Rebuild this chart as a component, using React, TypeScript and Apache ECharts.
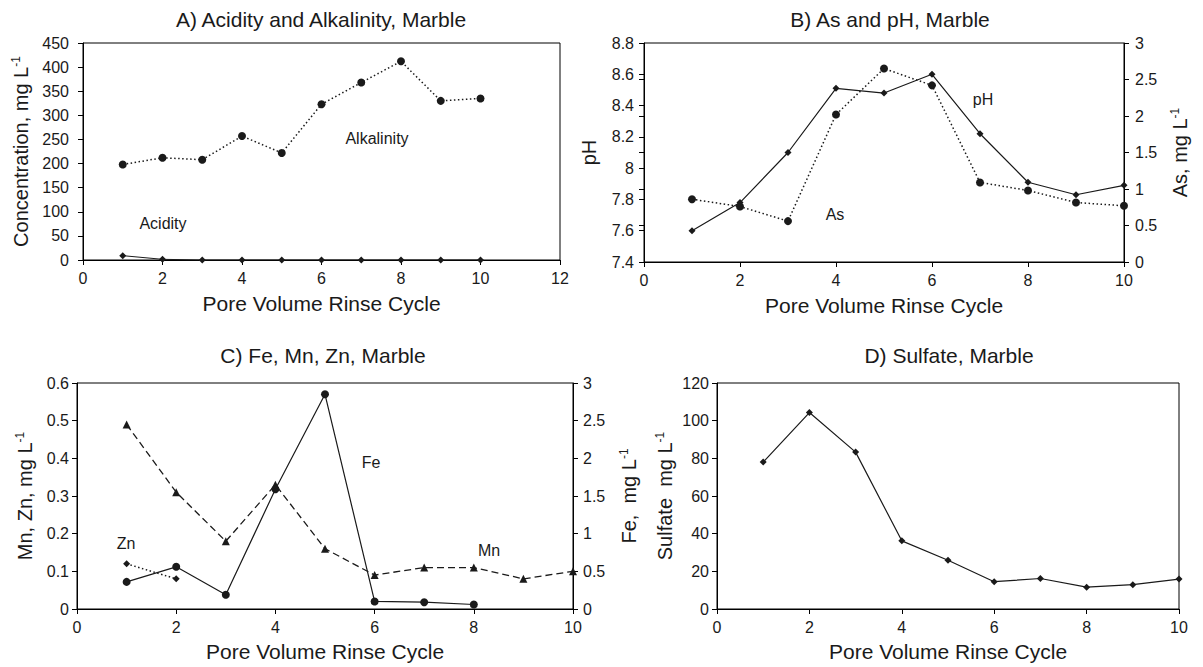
import React, { useEffect, useRef } from "react";
import * as echarts from "echarts";

// ---------- data ----------
const cycles = [1, 2, 3, 4, 5, 6, 7, 8, 9, 10];
const alkalinity = [198, 212, 208, 257, 222, 323, 368, 412, 330, 335];
const acidity = [9, 1.4, 0, 0, 0, 0, 0, 0, 0, 0];
const pH = [7.6, 7.78, 8.1, 8.51, 8.48, 8.6, 8.22, 7.91, 7.83, 7.89];
const arsenic = [0.86, 0.76, 0.56, 2.02, 2.65, 2.42, 1.09, 0.98, 0.815, 0.77];
const manganese = [0.49, 0.31, 0.18, 0.33, 0.16, 0.09, 0.11, 0.11, 0.08, 0.1];
const znCycles = [1, 2];
const zinc = [0.12, 0.08];
const feCycles = [1, 2, 3, 4, 5, 6, 7, 8];
const iron = [0.36, 0.56, 0.19, 1.59, 2.85, 0.1, 0.09, 0.06];
const sulfate = [78, 104.3, 83.3, 36.2, 25.9, 14.5, 16.2, 11.6, 12.9, 15.9];

const panelTitles = [
  "A) Acidity and Alkalinity, Marble",
  "B) As and pH, Marble",
  "C) Fe, Mn, Zn, Marble",
  "D) Sulfate, Marble",
];
const xAxisTitle = "Pore Volume Rinse Cycle";

const FONT = "Liberation Sans, Arial, sans-serif";
const INK = "#1a1a1a";

const pairs = (xs: number[], ys: number[]) => xs.map((x, i) => [x, ys[i]]);

const supRich = {
  sup: { fontSize: 12, verticalAlign: "top", fontFamily: FONT, color: INK, padding: [0, 0, 9, 0] },
};

function xAxis(gridIndex: number, max: number, nameGap = 33) {
  return {
    type: "value",
    gridIndex,
    min: 0,
    max,
    interval: 2,
    name: xAxisTitle,
    nameLocation: "middle",
    nameGap,
    nameTextStyle: { fontSize: 21, fontFamily: FONT, color: INK },
    axisLine: { show: true, onZero: false, lineStyle: { color: "#000", width: 1 } },
    axisTick: { show: true, length: 5, lineStyle: { color: "#000" } },
    axisLabel: { fontSize: 16, fontFamily: FONT, color: INK, margin: 10 },
    splitLine: { show: false },
  };
}

function yAxis(
  gridIndex: number,
  min: number,
  max: number,
  interval: number,
  name: string,
  nameGap: number,
  labelMargin: number,
  position: "left" | "right" = "left",
  fmt?: (v: number) => string
) {
  return {
    type: "value",
    gridIndex,
    min,
    max,
    interval,
    position,
    name,
    nameLocation: "middle",
    nameGap,
    nameRotate: 90,
    nameTextStyle: { fontSize: 20, fontFamily: FONT, color: INK, rich: supRich },
    axisLine: { show: true, onZero: false, lineStyle: { color: "#000", width: 1 } },
    axisTick: { show: true, length: 5, lineStyle: { color: "#000" } },
    axisLabel: {
      fontSize: 16,
      fontFamily: FONT,
      color: INK,
      margin: labelMargin,
      formatter: fmt ? fmt : undefined,
    },
    splitLine: { show: false },
  };
}

// inner half of the crossing ticks on the right-hand axes
function innerTicks(gridIndex: number, min: number, max: number, interval: number) {
  return {
    type: "value",
    gridIndex,
    min,
    max,
    interval,
    position: "right",
    axisLine: { show: false },
    axisTick: { show: true, inside: true, length: 5, lineStyle: { color: "#000" } },
    axisLabel: { show: false },
    splitLine: { show: false },
  };
}

function textEl(text: string, x: number, y: number, fontSize: number) {
  return {
    type: "text",
    x,
    y,
    style: {
      text,
      fontSize,
      fontFamily: FONT,
      fill: INK,
      textAlign: "center",
      textVerticalAlign: "middle",
    },
  };
}

const dotted = [1.5, 2.5];
const dashed = [7, 4];
const oneDecimal = (v: number) => String(Math.round(v * 10) / 10);

export default function App() {
  const ref = useRef<HTMLDivElement>(null);

  useEffect(() => {
    if (!ref.current) return;
    const chart = echarts.init(ref.current, undefined, { renderer: "svg" });

    const grids = [
      { left: 83, top: 43, width: 477, height: 217 },
      { left: 644, top: 43, width: 480, height: 219 },
      { left: 77, top: 383, width: 496, height: 226 },
      { left: 717, top: 383, width: 462, height: 226 },
    ].map((g) => ({ ...g, show: true, borderColor: "#000", borderWidth: 1, backgroundColor: "transparent" }));

    const option: any = {
      animation: false,
      backgroundColor: "#fff",
      textStyle: { fontFamily: FONT },
      grid: grids,
      xAxis: [xAxis(0, 12), xAxis(1, 10), xAxis(2, 10, 32), xAxis(3, 10, 32)],
      yAxis: [
        yAxis(0, 0, 450, 50, "Concentration, mg L{sup|-1}", 52, 14),
        yAxis(1, 7.4, 8.8, 0.2, "pH", 45, 10, "left", oneDecimal),
        yAxis(1, 0, 3, 0.5, "As, mg L{sup|-1}", 45, 11, "right"),
        yAxis(2, 0, 0.6, 0.1, "Mn, Zn, mg L{sup|-1}", 42, 8, "left", oneDecimal),
        yAxis(2, 0, 3, 0.5, "Fe,  mg L{sup|-1}", 45, 10, "right"),
        yAxis(3, 0, 120, 20, "Sulfate  mg L{sup|-1}", 42, 8),
        innerTicks(1, 0, 3, 0.5),
        innerTicks(2, 0, 3, 0.5),
      ],
      series: [
        {
          name: "Alkalinity",
          type: "line",
          xAxisIndex: 0,
          yAxisIndex: 0,
          data: pairs(cycles, alkalinity),
          symbol: "circle",
          symbolSize: 8,
          itemStyle: { color: INK },
          lineStyle: { color: INK, width: 1.5, type: dotted },
        },
        {
          name: "Acidity",
          type: "line",
          xAxisIndex: 0,
          yAxisIndex: 0,
          data: pairs(cycles, acidity),
          symbol: "diamond",
          symbolSize: 7,
          itemStyle: { color: INK },
          lineStyle: { color: INK, width: 1 },
        },
        {
          name: "pH",
          type: "line",
          xAxisIndex: 1,
          yAxisIndex: 1,
          data: pairs(cycles, pH),
          symbol: "diamond",
          symbolSize: 7,
          itemStyle: { color: INK },
          lineStyle: { color: INK, width: 1.2 },
        },
        {
          name: "As",
          type: "line",
          xAxisIndex: 1,
          yAxisIndex: 2,
          data: pairs(cycles, arsenic),
          symbol: "circle",
          symbolSize: 8,
          itemStyle: { color: INK },
          lineStyle: { color: INK, width: 1.5, type: dotted },
        },
        {
          name: "Mn",
          type: "line",
          xAxisIndex: 2,
          yAxisIndex: 3,
          data: pairs(cycles, manganese),
          symbol: "triangle",
          symbolSize: 8,
          itemStyle: { color: INK },
          lineStyle: { color: INK, width: 1.3, type: dashed },
        },
        {
          name: "Zn",
          type: "line",
          xAxisIndex: 2,
          yAxisIndex: 3,
          data: pairs(znCycles, zinc),
          symbol: "diamond",
          symbolSize: 7,
          itemStyle: { color: INK },
          lineStyle: { color: INK, width: 1.5, type: dotted },
        },
        {
          name: "Fe",
          type: "line",
          xAxisIndex: 2,
          yAxisIndex: 4,
          data: pairs(feCycles, iron),
          symbol: "circle",
          symbolSize: 8,
          itemStyle: { color: INK },
          lineStyle: { color: INK, width: 1.2 },
        },
        {
          name: "Sulfate",
          type: "line",
          xAxisIndex: 3,
          yAxisIndex: 5,
          data: pairs(cycles, sulfate),
          symbol: "diamond",
          symbolSize: 7,
          itemStyle: { color: INK },
          lineStyle: { color: INK, width: 1.2 },
        },
      ],
      graphic: [
        textEl(panelTitles[0], 321, 19, 21),
        textEl(panelTitles[1], 890, 19, 21),
        textEl(panelTitles[2], 323, 355, 21),
        textEl(panelTitles[3], 949, 355, 21),
        textEl("Alkalinity", 377, 138, 16),
        textEl("Acidity", 163, 223, 16),
        textEl("pH", 983, 99, 16),
        textEl("As", 835, 214, 16),
        textEl("Zn", 126, 543, 16),
        textEl("Fe", 371, 462, 16),
        textEl("Mn", 489, 550, 16),
      ],
    };

    chart.setOption(option);
    return () => chart.dispose();
  }, []);

  return (
    <div
      ref={ref}
      style={{ position: "absolute", left: 0, top: 0, width: 1203, height: 667, background: "#fff" }}
    />
  );
}
